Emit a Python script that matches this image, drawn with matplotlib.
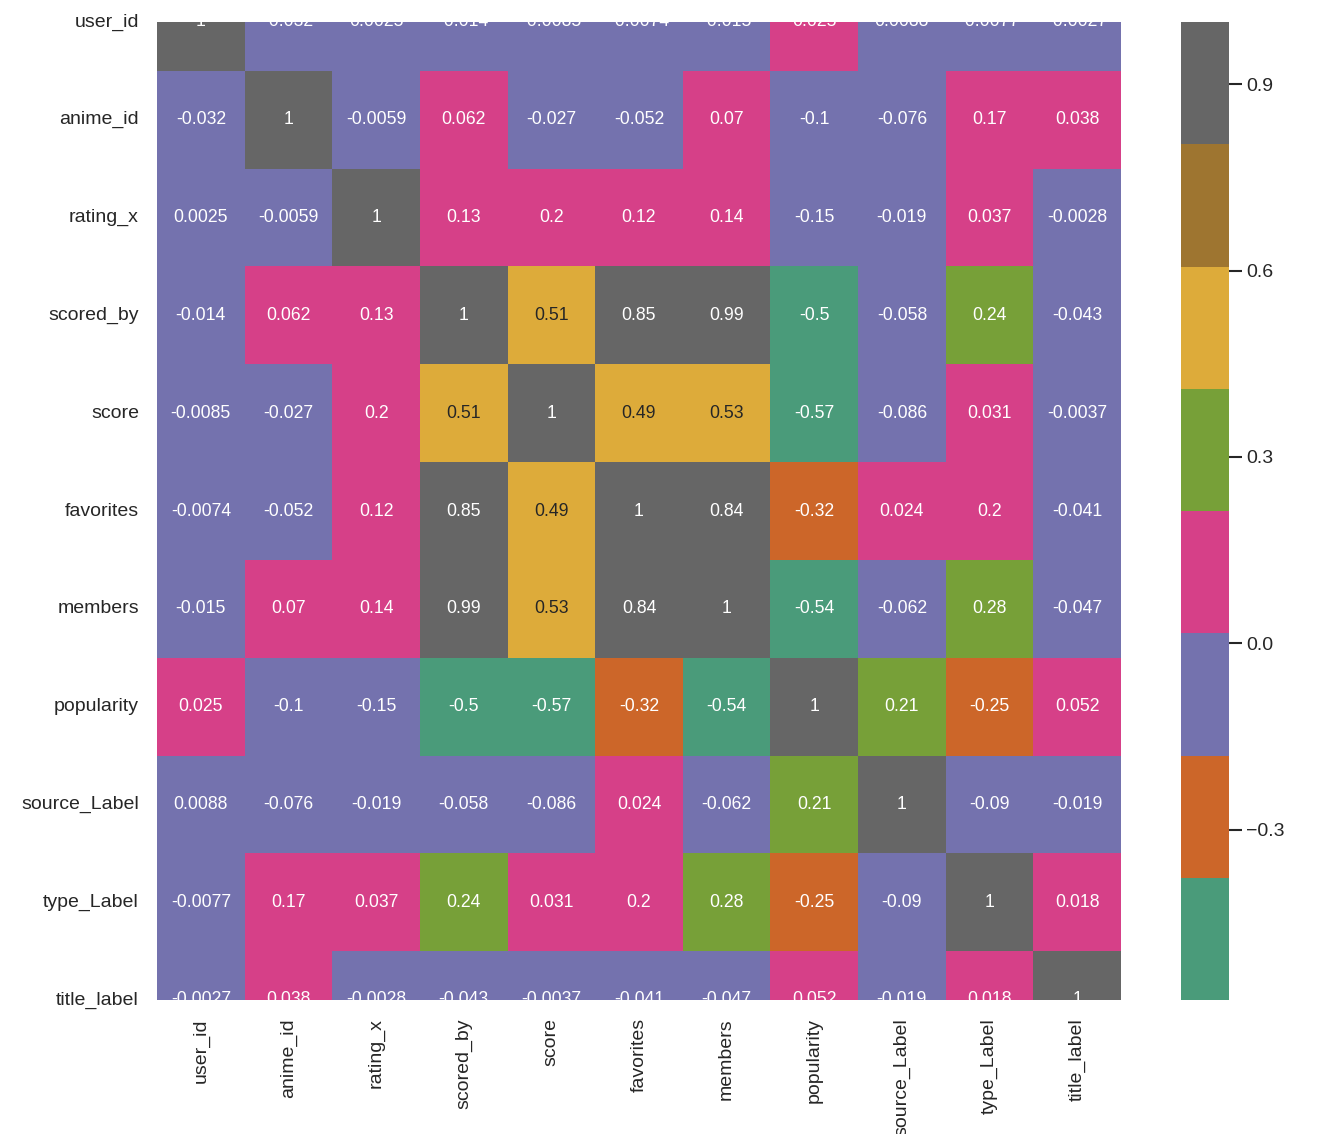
import numpy as np
import pandas as pd
import seaborn as sns
import matplotlib.pyplot as plt
from matplotlib.colors import ListedColormap

labels = ['user_id', 'anime_id', 'rating_x', 'scored_by', 'score', 'favorites',
          'members', 'popularity', 'source_Label', 'type_Label', 'title_label']

user_id = [1, -0.032, 0.0025, -0.014, -0.0085, -0.0074, -0.015, 0.025, 0.0088, -0.0077, -0.0027]
anime_id = [-0.032, 1, -0.0059, 0.062, -0.027, -0.052, 0.07, -0.1, -0.076, 0.17, 0.038]
rating_x = [0.0025, -0.0059, 1, 0.13, 0.2, 0.12, 0.14, -0.15, -0.019, 0.037, -0.0028]
scored_by = [-0.014, 0.062, 0.13, 1, 0.51, 0.85, 0.99, -0.5, -0.058, 0.24, -0.043]
score = [-0.0085, -0.027, 0.2, 0.51, 1, 0.49, 0.53, -0.574, -0.086, 0.031, -0.0037]
favorites = [-0.0074, -0.052, 0.12, 0.85, 0.49, 1, 0.84, -0.32, 0.024, 0.2, -0.041]
members = [-0.015, 0.07, 0.14, 0.99, 0.53, 0.84, 1, -0.54, -0.062, 0.28, -0.047]
popularity = [0.025, -0.1, -0.15, -0.5, -0.574, -0.32, -0.54, 1, 0.213, -0.25, 0.052]
source_Label = [0.0088, -0.076, -0.019, -0.058, -0.086, 0.024, -0.062, 0.213, 1, -0.09, -0.019]
type_Label = [-0.0077, 0.17, 0.037, 0.24, 0.031, 0.2, 0.28, -0.25, -0.09, 1, 0.018]
title_label = [-0.0027, 0.038, -0.0028, -0.043, -0.0037, -0.041, -0.047, 0.052, -0.019, 0.018, 1]

corr = pd.DataFrame([user_id, anime_id, rating_x, scored_by, score, favorites,
                     members, popularity, source_Label, type_Label, title_label],
                    index=labels, columns=labels)

cbar_ticks = [-0.3, 0.0, 0.3, 0.6, 0.9]

# Dark2, a bit washed out like the original
cmap = ListedColormap(['#4a9b7a', '#cc6629', '#7472ae', '#d64088',
                       '#77a038', '#ddab3a', '#9e7530', '#666666'])

sns.set_theme(style='white')
plt.rcParams['font.family'] = ['Liberation Sans', 'DejaVu Sans']

fig = plt.figure(figsize=(13.26, 11.34), dpi=100)
ax = fig.add_axes([157 / 1326, 134 / 1134, 964 / 1326, 978 / 1134])
cax = fig.add_axes([1181 / 1326, 134 / 1134, 48 / 1326, 978 / 1134])

sns.heatmap(corr, annot=True, cmap=cmap, ax=ax, cbar_ax=cax,
            annot_kws={'fontsize': 12.7})

# the old matplotlib half-row crop
ax.set_ylim(10.5, 0.5)
for t in ax.texts:
    t.set_clip_on(True)

ax.tick_params(axis='both', length=0, pad=13, labelsize=14, labelcolor='.15')
ax.set_yticklabels(labels, rotation=0)
ax.set_xticklabels(labels, rotation=90)

cax.set_yticks(cbar_ticks)
cax.set_yticklabels([f'{v:.1f}'.replace('-', '\u2212') for v in cbar_ticks])
cax.tick_params(length=9, width=1.5, color='.15', pad=3.5, labelsize=14, labelcolor='.15')

fig.savefig('out.png', dpi=100)
